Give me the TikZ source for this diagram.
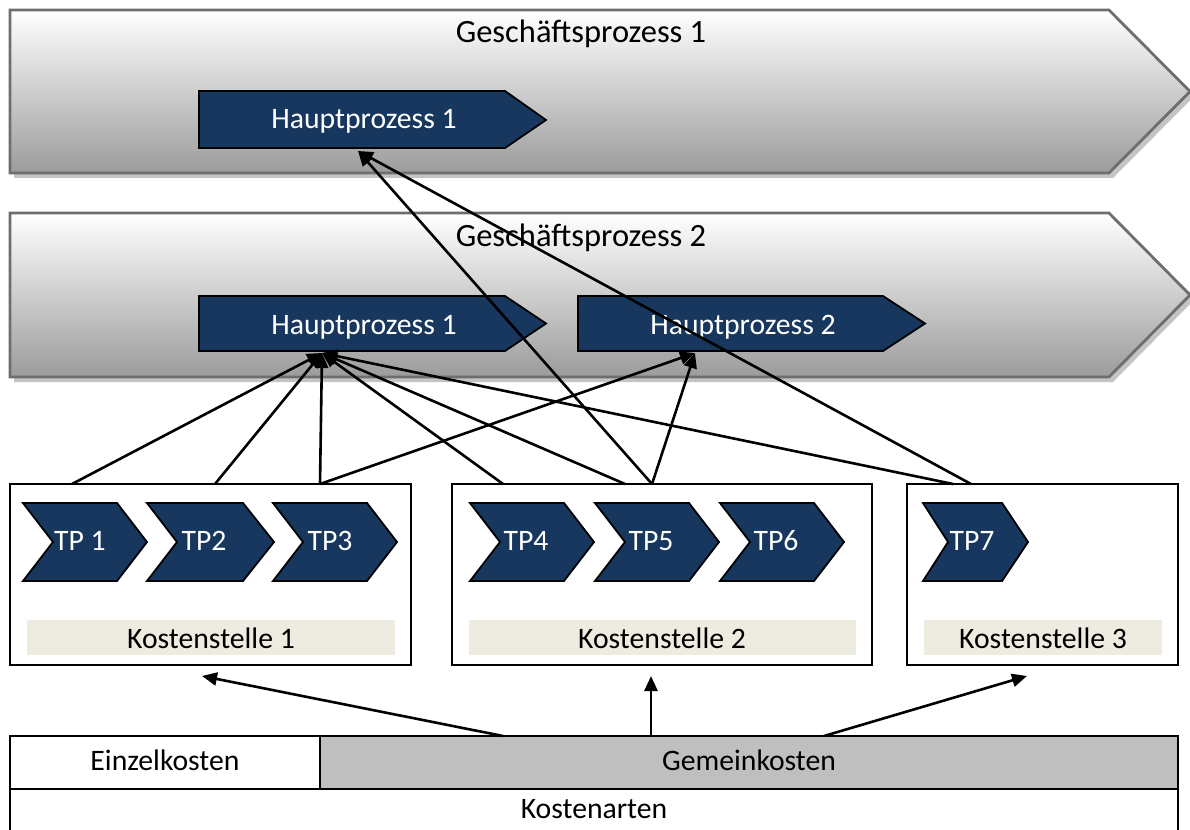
\documentclass[tikz,border=0pt]{standalone}
\usepackage{fontspec}
\setmainfont{Carlito}
\usetikzlibrary{arrows.meta}
\definecolor{navy}{HTML}{17375E}
\definecolor{ksbar}{HTML}{EEECE1}
\definecolor{gkfill}{HTML}{BFBFBF}
\definecolor{gpborder}{HTML}{6E6E6E}
\definecolor{gpshadowc}{HTML}{C4C4C4}
\begin{document}
\begin{tikzpicture}[x=1pt,y=-1pt,
  gp/.style={draw=gpborder,line width=2.8pt,top color=white,bottom color=black!39,line join=miter},
  gpshadow/.style={fill=gpshadowc},
  hp/.style={fill=navy,draw=black,line width=1.8pt,line join=miter},
  lbl/.style={font=\fontsize{29.7}{34}\selectfont,inner sep=0pt,anchor=base},
  gplbl/.style={lbl,font=\fontsize{32.5}{38}\selectfont},
  wlbl/.style={lbl,text=white},
  box/.style={draw=black,line width=2.3pt},
  bar/.style={fill=ksbar},
  arr/.style={line width=2.6pt,-{Triangle[length=15pt,width=13pt]}}]
\useasboundingbox (0,0) rectangle (1190,829);
\fill[white] (0,0) rectangle (1190,829);

% Geschaeftsprozess 1
\fill[gpshadow] (14,15) -- (1113,15) -- (1194,96.5) -- (1113,178) -- (14,178) -- cycle;
\shadedraw[gp] (10,10) -- (1109,10) -- (1190,91.5) -- (1109,173) -- (10,173) -- cycle;
\node[gplbl] (gp1t) at (581,43) {Geschäftsprozess 1};
\filldraw[hp] (199,91) -- (505,91) -- (546,120) -- (505,148) -- (199,148) -- cycle;
\node[wlbl] (hp1t) at (364,129) {Hauptprozess 1};

% Geschaeftsprozess 2
\fill[gpshadow] (14,218) -- (1113,218) -- (1194,300) -- (1113,382) -- (14,382) -- cycle;
\shadedraw[gp] (10,213) -- (1109,213) -- (1190,295) -- (1109,377) -- (10,377) -- cycle;
\node[gplbl] (gp2t) at (581,246) {Geschäftsprozess 2};
\filldraw[hp] (199,296) -- (505,296) -- (546,323.5) -- (505,351) -- (199,351) -- cycle;
\node[wlbl] (hp1b) at (364,334) {Hauptprozess 1};
\filldraw[hp] (578,296) -- (883,296) -- (925,323.5) -- (883,351) -- (578,351) -- cycle;
\node[wlbl] (hp2) at (743,334) {Hauptprozess 2};

% Kostenstellen
\draw[box] (10,484) rectangle (411,665);
\draw[box] (452,484) rectangle (872,665);
\draw[box] (907,484) rectangle (1178,665);
\fill[bar] (27,620) rectangle (395,655);
\fill[bar] (469,620) rectangle (856,655);
\fill[bar] (924,620) rectangle (1162,655);
\node[lbl] (ks1) at (211,648) {Kostenstelle 1};
\node[lbl] (ks2) at (662,648) {Kostenstelle 2};
\node[lbl] (ks3) at (1043,648) {Kostenstelle 3};

% Teilprozesse
\filldraw[hp] (23,503) -- (117,503) -- (147,542) -- (117,581) -- (23,581) -- (53,542) -- cycle;
\filldraw[hp] (147,503) -- (243,503) -- (274,542) -- (243,581) -- (147,581) -- (177,542) -- cycle;
\filldraw[hp] (273,503) -- (367,503) -- (397,542) -- (367,581) -- (273,581) -- (303,542) -- cycle;
\filldraw[hp] (470,503) -- (564,503) -- (594,542) -- (564,581) -- (470,581) -- (500,542) -- cycle;
\filldraw[hp] (595,503) -- (689,503) -- (719,542) -- (689,581) -- (595,581) -- (625,542) -- cycle;
\filldraw[hp] (720,503) -- (814,503) -- (844,542) -- (814,581) -- (720,581) -- (750,542) -- cycle;
\filldraw[hp] (923,503) -- (1002,503) -- (1028,542) -- (1002,581) -- (923,581) -- (948,542) -- cycle;
\node[wlbl] (tp1) at (80,550) {TP 1};
\node[wlbl] (tp2) at (204,550) {TP2};
\node[wlbl] (tp3) at (330,550) {TP3};
\node[wlbl] (tp4) at (526,550) {TP4};
\node[wlbl] (tp5) at (651,550) {TP5};
\node[wlbl] (tp6) at (776,550) {TP6};
\node[wlbl] (tp7) at (972,550) {TP7};

% Kostenarten
\draw[box,fill=white] (10,736) rectangle (320,789);
\draw[box,fill=gkfill] (320,736) rectangle (1178,789);
\draw[box] (10,789) rectangle (1178,840);
\node[lbl] (ek) at (165,770) {Einzelkosten};
\node[lbl] (gk) at (749,770) {Gemeinkosten};
\node[lbl] (ka) at (594,818) {Kostenarten};

% connector end points
\coordinate (hp1tIn) at (358,151);
\coordinate (hp1bIn) at (322,353);
\coordinate (hp2In) at (695,353);
\coordinate (ks1a) at (72,484);
\coordinate (ks1b) at (215,484);
\coordinate (ks1c) at (320,484);
\coordinate (ks2a) at (503,484);
\coordinate (ks2b) at (625,484);
\coordinate (ks2c) at (652,484);
\coordinate (ks3a) at (953,484);
\coordinate (ks3b) at (971,484);
\coordinate (ks1In) at (202,676);
\coordinate (ks2In) at (651,676);
\coordinate (ks3In) at (1027,676);
\coordinate (gka) at (503,736);
\coordinate (gkb) at (651,736);
\coordinate (gkc) at (824,736);

% connectors
\draw[arr] (ks1a) -- (hp1bIn);
\draw[arr] (ks1b) -- (hp1bIn);
\draw[arr] (ks1c) -- (hp1bIn);
\draw[arr] (ks2a) -- (hp1bIn);
\draw[arr] (ks2b) -- (hp1bIn);
\draw[arr] (ks3a) -- (hp1bIn);
\draw[arr] (ks1c) -- (hp2In);
\draw[arr] (ks2c) -- (hp2In);
\draw[arr] (ks2c) -- (hp1tIn);
\draw[arr] (ks3b) -- (hp1tIn);
\draw[arr] (gka) -- (ks1In);
\draw[arr] (gkb) -- (ks2In);
\draw[arr] (gkc) -- (ks3In);
\end{tikzpicture}
\end{document}
